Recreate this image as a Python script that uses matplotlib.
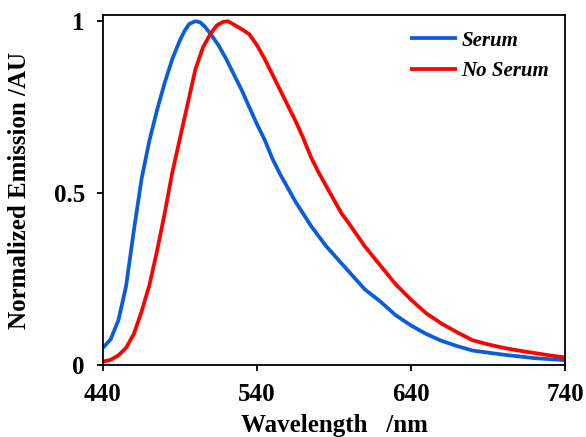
import matplotlib
matplotlib.use("Agg")
import matplotlib.pyplot as plt

plt.rcParams['font.family'] = ['Liberation Serif', 'DejaVu Serif']
plt.rcParams['font.weight'] = 'bold'

# Emission spectra (wavelength in nm, normalized intensity)
wavelength_serum = [440, 445, 450, 455, 460, 465, 470, 475, 480, 485, 490, 493, 496,
                    500, 503, 506, 510, 515, 520, 525, 530, 535, 540, 545, 550, 555,
                    560, 565, 570, 575, 580, 585, 590, 595, 600, 610, 620, 630,
                    640, 650, 660, 670, 680, 690, 700, 710, 720, 730, 740]
emission_serum = [0.05, 0.075, 0.13, 0.23, 0.39, 0.54, 0.65, 0.74, 0.82, 0.89, 0.945, 0.972, 0.992,
                  1.0, 0.997, 0.985, 0.962, 0.93, 0.89, 0.845, 0.80, 0.75, 0.70, 0.655, 0.60, 0.555,
                  0.515, 0.475, 0.44, 0.405, 0.375, 0.345, 0.32, 0.295, 0.27, 0.22, 0.185, 0.145,
                  0.115, 0.09, 0.07, 0.055, 0.042, 0.036, 0.030, 0.025, 0.02, 0.017, 0.014]

wavelength_no_serum = [440, 445, 450, 455, 460, 465, 470, 475, 480, 485, 490, 495,
                       500, 505, 510, 514, 518, 521, 525, 530, 535, 540, 545, 550, 555,
                       560, 565, 570, 575, 580, 585, 590, 595, 600, 610, 620, 630,
                       640, 650, 660, 670, 680, 690, 700, 710, 720, 730, 740]
emission_no_serum = [0.01, 0.015, 0.028, 0.05, 0.09, 0.155, 0.23, 0.33, 0.44, 0.56, 0.66, 0.76,
                     0.86, 0.925, 0.965, 0.988, 0.998, 1.0, 0.99, 0.977, 0.962, 0.93, 0.89, 0.845, 0.80,
                     0.755, 0.71, 0.66, 0.605, 0.56, 0.52, 0.48, 0.44, 0.41, 0.345, 0.29, 0.235,
                     0.19, 0.15, 0.12, 0.095, 0.072, 0.06, 0.05, 0.042, 0.035, 0.028, 0.022]

series_labels = ["Serum", "No Serum"]
x_ticks = [440, 540, 640, 740]
y_ticks = [0, 0.5, 1]
y_tick_labels = ["0", "0.5", "1"]

fig = plt.figure(figsize=(5.86, 4.37), dpi=100)
ax = fig.add_axes([103 / 586, 1 - 365 / 437, (565 - 103) / 586, (365 - 15) / 437])

ax.plot(wavelength_serum, emission_serum, color="#0A5CD8", lw=2.7,
        label=series_labels[0], solid_capstyle="butt", solid_joinstyle="round")
ax.plot(wavelength_no_serum, emission_no_serum, color="#FF0000", lw=2.7,
        label=series_labels[1], solid_capstyle="butt", solid_joinstyle="round")

ax.set_xlim(440, 740)
ax.set_ylim(0, 1.018)
ax.set_xticks(x_ticks)
ax.set_yticks(y_ticks)
ax.set_yticklabels(y_tick_labels)

for s in ax.spines.values():
    s.set_linewidth(1.3)
    s.set_color("black")

ax.tick_params(axis="both", direction="out", length=4, width=1.3, labelsize=18)
ax.tick_params(axis="y", pad=9)
ax.tick_params(axis="x", pad=9)

ax.set_xlabel("Wavelength   /nm", fontsize=18, fontweight="bold", labelpad=6)
ax.set_ylabel("Normalized Emission /AU", fontsize=18, fontweight="bold", labelpad=16)

leg = ax.legend(loc="upper right", bbox_to_anchor=(1.0, 1.0), frameon=False,
                handlelength=2.3, handletextpad=0.2, labelspacing=0.5,
                borderaxespad=0.35,
                prop={"family": "Liberation Serif", "weight": "bold",
                      "style": "italic", "size": 15})

fig.savefig("out.png", dpi=100)
